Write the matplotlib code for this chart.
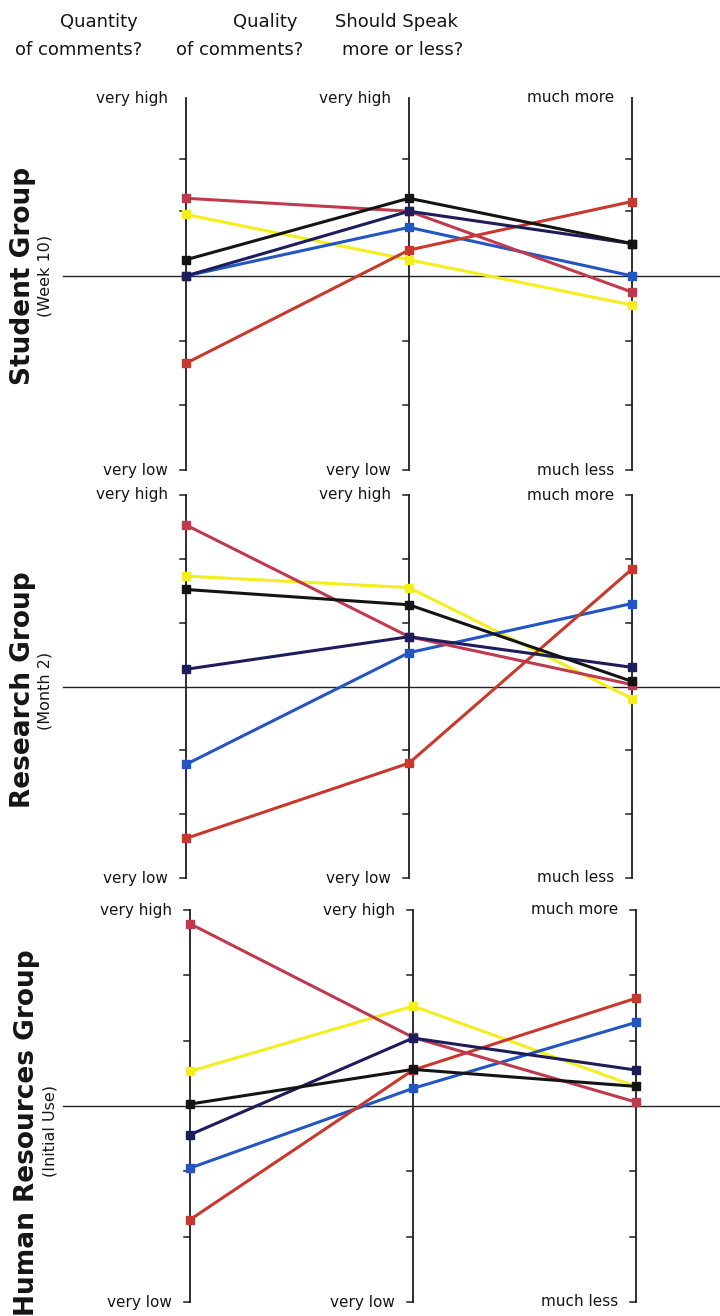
import matplotlib
matplotlib.use("Agg")
import matplotlib.pyplot as plt

plt.rcParams['font.family'] = ['DejaVu Sans']

# Survey questions (one vertical axis each)
questions = ["Quantity\nof comments?", "Quality\nof comments?", "Should Speak\nmore or less?"]
top_labels = ["very high", "very high", "much more"]
bottom_labels = ["very low", "very low", "much less"]

groups = ["Student Group", "Research Group", "Human Resources Group"]
subtitles = ["(Week 10)", "(Month 2)", "(Initial Use)"]

# Mean ratings per participant on a -3 .. +3 scale (0 = neutral)
student = {
    "crimson":   [1.2, 1.0, -0.25],
    "yellow":    [0.95, 0.25, -0.45],
    "blue":      [0.0, 0.75, 0.0],
    "orangered": [-1.35, 0.4, 1.15],
    "navy":      [0.0, 1.0, 0.5],
    "black":     [0.25, 1.2, 0.5],
}
research = {
    "crimson":   [2.53, 0.78, 0.03],
    "yellow":    [1.73, 1.55, -0.19],
    "blue":      [-1.22, 0.53, 1.3],
    "orangered": [-2.38, -1.2, 1.84],
    "navy":      [0.27, 0.78, 0.3],
    "black":     [1.52, 1.28, 0.08],
}
human_resources = {
    "crimson":   [2.79, 1.05, 0.06],
    "yellow":    [0.53, 1.53, 0.3],
    "blue":      [-0.95, 0.27, 1.28],
    "orangered": [-1.74, 0.55, 1.65],
    "navy":      [-0.44, 1.04, 0.55],
    "black":     [0.03, 0.56, 0.3],
}
panels = [student, research, human_resources]

colors = {
    "crimson":   "#c03a4e",
    "yellow":    "#f4ef1c",
    "blue":      "#2356c2",
    "orangered": "#c9382c",
    "navy":      "#1d1d5c",
    "black":     "#141414",
}

W, H = 720, 1316
fig = plt.figure(figsize=(W / 100, H / 100), dpi=100)

# panel geometry in pixels: (top, bottom, x of first axis, ylim low, ylim high, tick values)
layout = [
    (98, 470, 186, -3.0, 2.75, [-3, -2, -1, 1, 1.8]),
    (495, 878, 186, -3.0, 3.0, [-3, -2, -1, 1, 2, 3]),
    (910, 1302, 190, -3.0, 3.0, [-3, -2, -1, 1, 2, 3]),
]
axis_step = 223  # pixel distance between neighbouring question axes

for p, (data, (top, bot, x0, ylo, yhi, ticks)) in enumerate(zip(panels, layout)):
    ax = fig.add_axes([0, 1 - bot / H, 1, (bot - top) / H])
    ax.set_xlim(-x0 / axis_step, (W - x0) / axis_step)
    ax.set_ylim(ylo, yhi)
    ax.axis("off")

    # neutral line
    xl = ax.get_xlim()
    ax.plot([xl[0] + 63 / axis_step, xl[1]], [0, 0], color="#222222", lw=1.0, zorder=1)

    tick_len = 6 / axis_step
    for i in range(3):
        ax.plot([i, i], [ylo, yhi], color="#1e1e1e", lw=1.3, zorder=1, clip_on=False)
        for t in ticks:
            ax.plot([i - tick_len, i], [t, t], color="#1e1e1e", lw=1.1, zorder=1, clip_on=False)
        ax.text(i - 18 / axis_step, yhi, top_labels[i], ha="right", va="center",
                fontsize=11, color="#151515")
        ax.text(i - 18 / axis_step, ylo, bottom_labels[i], ha="right", va="center",
                fontsize=11, color="#151515")

    for name in ["yellow", "blue", "orangered", "crimson", "navy", "black"]:
        ax.plot([0, 1, 2], data[name], color=colors[name], lw=2.2, marker="s",
                markersize=6, zorder=3, clip_on=False)

# group titles along the left edge
title_pos = [(23, 276, 45, 276), (23, 690, 45, 691), (27, 1133, 50, 1131)]
for g, s, (gx, gy, sx, sy) in zip(groups, subtitles, title_pos):
    fig.text(gx / W, 1 - gy / H, g, rotation=90, ha="center", va="center",
             fontsize=19, fontweight="bold", color="#151515")
    fig.text(sx / W, 1 - sy / H, s, rotation=90, ha="center", va="center",
             fontsize=11.5, color="#151515")

# question headers
header_right = [(138, 142), (298, 303), (458, 463)]
for q, (r1, r2) in zip(questions, header_right):
    l1, l2 = q.split("\n")
    fig.text(r1 / W, 1 - 22 / H, l1, ha="right", va="center", fontsize=13, color="#151515")
    fig.text(r2 / W, 1 - 50 / H, l2, ha="right", va="center", fontsize=13, color="#151515")

fig.savefig("out.png", dpi=100, facecolor="white")
